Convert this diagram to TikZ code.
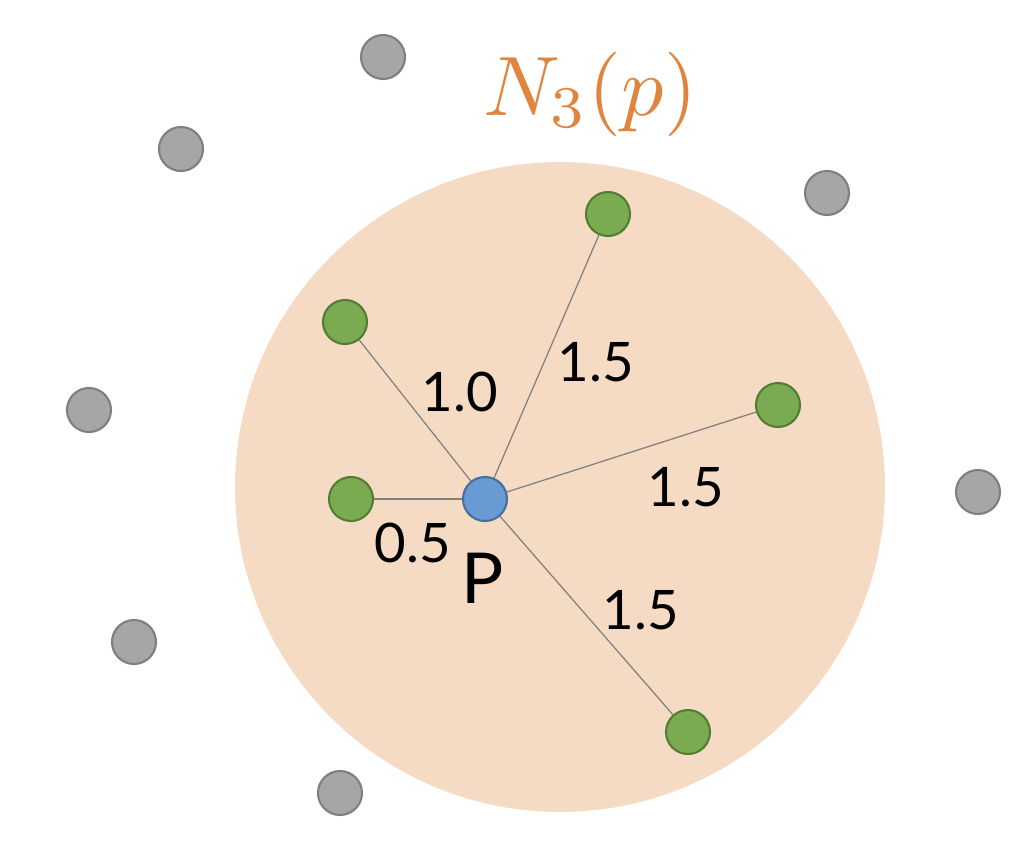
\documentclass[tikz,border=0pt]{standalone}
\usepackage{fontspec}
\setmainfont{Lato}
\usepackage{tikz}
\usetikzlibrary{positioning,calc}
\definecolor{hoodfill}{HTML}{F5DAC4}
\definecolor{hoodtext}{HTML}{E0853F}
\definecolor{ptfill}{HTML}{6A9AD4}
\definecolor{ptdraw}{HTML}{45709E}
\definecolor{nbfill}{HTML}{7AAB50}
\definecolor{nbdraw}{HTML}{527D34}
\definecolor{farfill}{HTML}{A6A6A6}
\definecolor{fardraw}{HTML}{7F7F7F}

\begin{document}
\begin{tikzpicture}[x=0.02cm, y=-0.02cm,
    dot/.style={circle, minimum size=0.88cm, inner sep=0pt, line width=1.2pt},
    query/.style={dot, fill=ptfill, draw=ptdraw},
    nbr/.style={dot, fill=nbfill, draw=nbdraw},
    far/.style={dot, fill=farfill, draw=fardraw},
    dist/.style={font=\fontsize{31}{31}\selectfont},
    edge/.style={draw=gray, line width=0.7pt}]
    \useasboundingbox (0,0) rectangle (1018,846);

    % neighbourhood
    \fill[hoodfill] (560,487) circle[radius=6.5cm];
    \node[text=hoodtext, scale=4.8] (title) at (590,94) {$N_3(p)$};

    % query point
    \node[query] (p) at (485,499) {};
    \node[font=\fontsize{40}{40}\selectfont] (plabel) at (483,578) {P};

    % the three nearest (green)
    \node[nbr] (n1) at (608,214) {};
    \node[nbr] (n2) at (345,322) {};
    \node[nbr] (n3) at (778,405) {};
    \node[nbr] (n4) at (351,499) {};
    \node[nbr] (n5) at (688,732) {};

    % points outside
    \node[far] (g1) at (383,57) {};
    \node[far] (g2) at (181,149) {};
    \node[far] (g3) at (827,193) {};
    \node[far] (g4) at (89,410) {};
    \node[far] (g5) at (978,492) {};
    \node[far] (g6) at (134,642) {};
    \node[far] (g7) at (340,793) {};

    % edges to neighbours
    \draw[edge] (p) -- (n1);
    \draw[edge] (p) -- (n2);
    \draw[edge] (p) -- (n3);
    \draw[edge] (p) -- (n4);
    \draw[edge] (p) -- (n5);

    % distances
    \node[dist] (d1) at (596,362) {1.5};
    \node[dist] (d2) at (460,392) {1.0};
    \node[dist] (d3) at (686,487) {1.5};
    \node[dist] (d4) at (413,543) {0.5};
    \node[dist] (d5) at (641,610) {1.5};
\end{tikzpicture}
\end{document}
